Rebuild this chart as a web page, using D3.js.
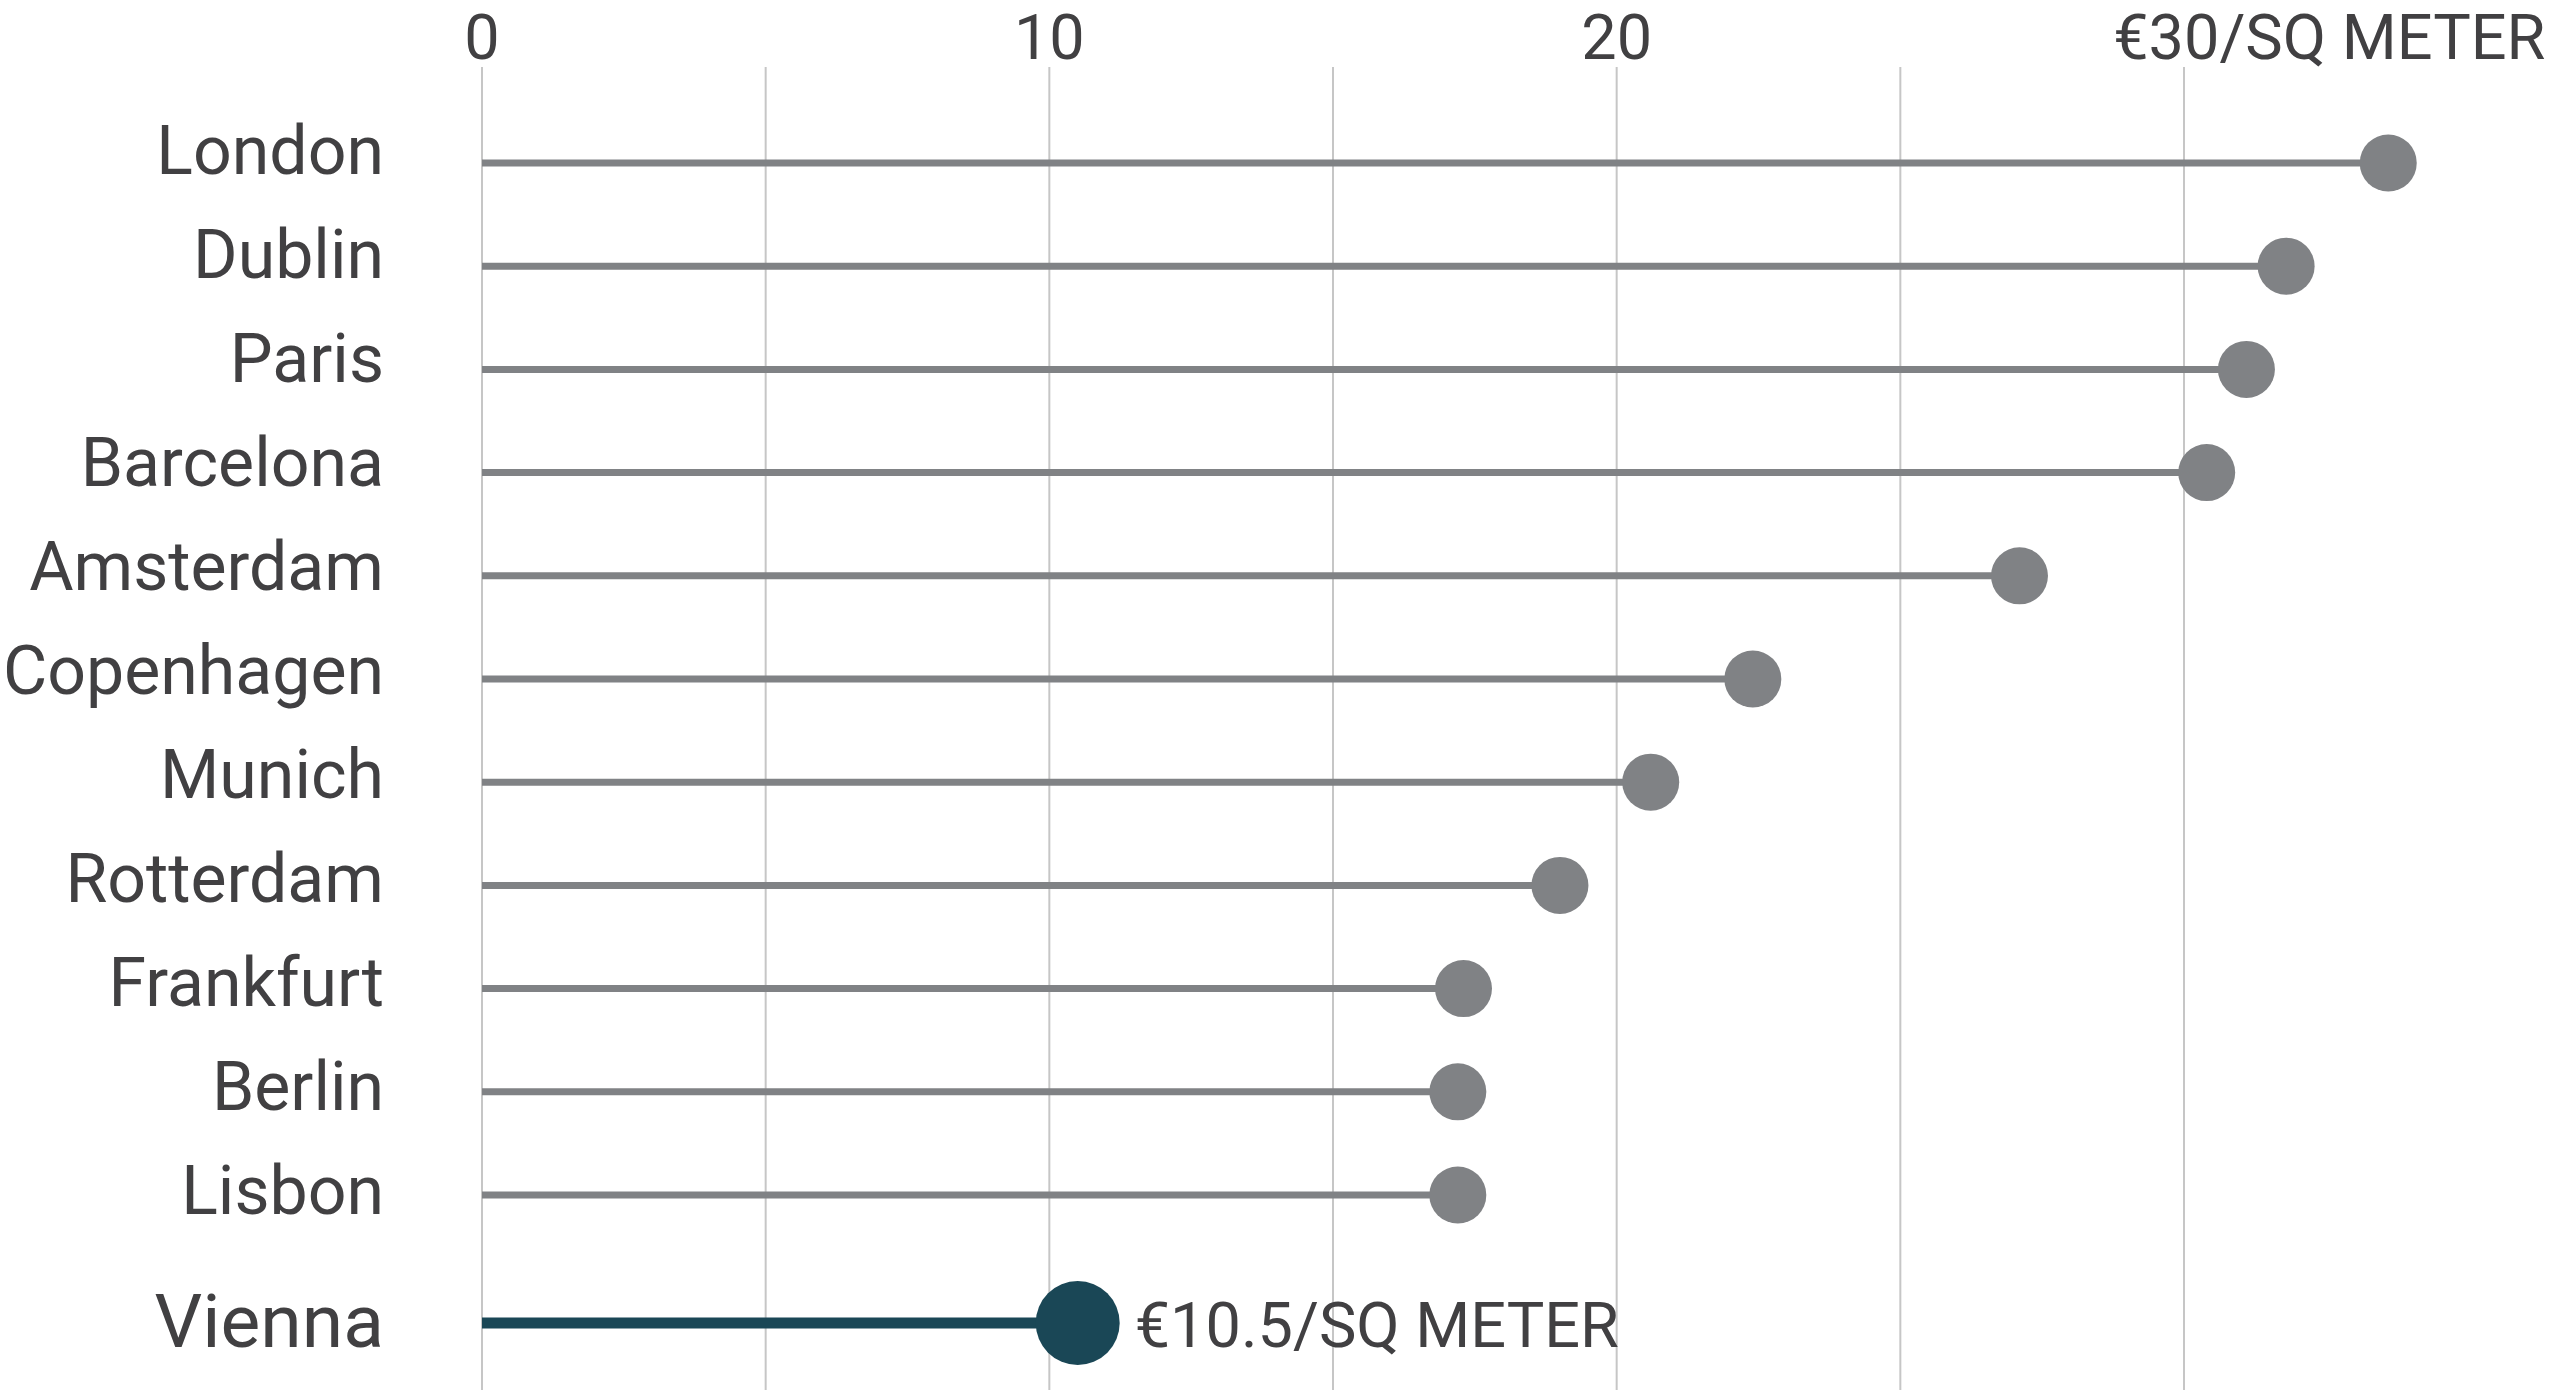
<!DOCTYPE html>
<html>
<head>
<meta charset="utf-8">
<script src="https://cdn.jsdelivr.net/npm/d3@7"></script>
<style>
  html, body { margin: 0; padding: 0; background: #fff; }
  text { font-family: Roboto, "Noto Sans", sans-serif; }
</style>
</head>
<body>
<div id="chart"></div>
<script>
// office rent, euro per square meter
const cities = ["London", "Dublin", "Paris", "Barcelona", "Amsterdam", "Copenhagen",
                "Munich", "Rotterdam", "Frankfurt", "Berlin", "Lisbon"];
const rents = [33.6, 31.8, 31.1, 30.4, 27.1, 22.4, 20.6, 19.0, 17.3, 17.2, 17.2];
const highlightCity = ["Vienna"];
const highlightRent = [10.5];
const tickValues = [0, 10, 20, 30];
const gridValues = [0, 5, 10, 15, 20, 25, 30];

const width = 2560, height = 1390;

const svg = d3.select("#chart").append("svg")
    .attr("width", width)
    .attr("height", height);

const x = d3.scaleLinear().domain([0, 30]).range([482, 2184]);
const y = d3.scalePoint().domain(cities).range([163, 1195]);
// the labels sit on a slightly wider pitch than the lines
const yLabel = d3.scalePoint().domain(cities).range([174, 1214]);
const yHighlight = d3.scalePoint().domain(highlightCity).range([1323, 1323]);

// vertical grid
svg.selectAll(".grid")
    .data(gridValues)
    .enter()
    .append("line")
    .attr("class", "grid")
    .attr("x1", d => x(d))
    .attr("x2", d => x(d))
    .attr("y1", 67)
    .attr("y2", height)
    .attr("stroke", "#c6c6c6")
    .attr("stroke-width", 2);

// tick labels on top
const ticks = svg.selectAll(".tick-label")
    .data(tickValues)
    .enter()
    .append("text")
    .attr("class", "tick-label")
    .attr("y", 59)
    .attr("font-size", 63)
    .attr("fill", "#414042")
    .text(d => d == 30 ? "€30/SQ METER" : d);

// center the number on its gridline (the last one has units around it)
ticks.each(function(d) {
    const t = d3.select(this);
    const s = String(d);
    const full = t.text();
    const start = full.indexOf(s);
    const pre = start > 0 ? this.getSubStringLength(0, start) : 0;
    const w = this.getSubStringLength(start, s.length);
    t.attr("x", x(d) - pre - w / 2);
});

// city rows
svg.selectAll(".stem")
    .data(cities)
    .enter()
    .append("line")
    .attr("class", "stem")
    .attr("x1", x(0))
    .attr("x2", (d, i) => x(rents[i]))
    .attr("y1", d => y(d))
    .attr("y2", d => y(d))
    .attr("stroke", "#808285")
    .attr("stroke-width", 7);

svg.selectAll(".dot")
    .data(cities)
    .enter()
    .append("circle")
    .attr("class", "dot")
    .attr("cx", (d, i) => x(rents[i]))
    .attr("cy", d => y(d))
    .attr("r", 28.5)
    .attr("fill", "#808285");

svg.selectAll(".city-label")
    .data(cities)
    .enter()
    .append("text")
    .attr("class", "city-label")
    .attr("x", 384)
    .attr("y", d => yLabel(d))
    .attr("text-anchor", "end")
    .attr("font-size", 68)
    .attr("fill", "#414042")
    .text(d => d);

// highlighted city
svg.selectAll(".hl-stem")
    .data(highlightCity)
    .enter()
    .append("line")
    .attr("class", "hl-stem")
    .attr("x1", x(0))
    .attr("x2", (d, i) => x(highlightRent[i]))
    .attr("y1", d => yHighlight(d))
    .attr("y2", d => yHighlight(d))
    .attr("stroke", "#1a4756")
    .attr("stroke-width", 11);

svg.selectAll(".hl-dot")
    .data(highlightCity)
    .enter()
    .append("circle")
    .attr("class", "hl-dot")
    .attr("cx", (d, i) => x(highlightRent[i]))
    .attr("cy", d => yHighlight(d))
    .attr("r", 42)
    .attr("fill", "#1a4756");

svg.selectAll(".hl-label")
    .data(highlightCity)
    .enter()
    .append("text")
    .attr("class", "hl-label")
    .attr("x", 384)
    .attr("y", d => yHighlight(d) + 24)
    .attr("text-anchor", "end")
    .attr("font-size", 75)
    .attr("fill", "#414042")
    .text(d => d);

svg.selectAll(".hl-value")
    .data(highlightCity)
    .enter()
    .append("text")
    .attr("class", "hl-value")
    .attr("x", (d, i) => x(highlightRent[i]) + 57)
    .attr("y", d => yHighlight(d) + 24)
    .attr("font-size", 63)
    .attr("fill", "#414042")
    .text((d, i) => `€${highlightRent[i]}/SQ METER`);
</script>
</body>
</html>
